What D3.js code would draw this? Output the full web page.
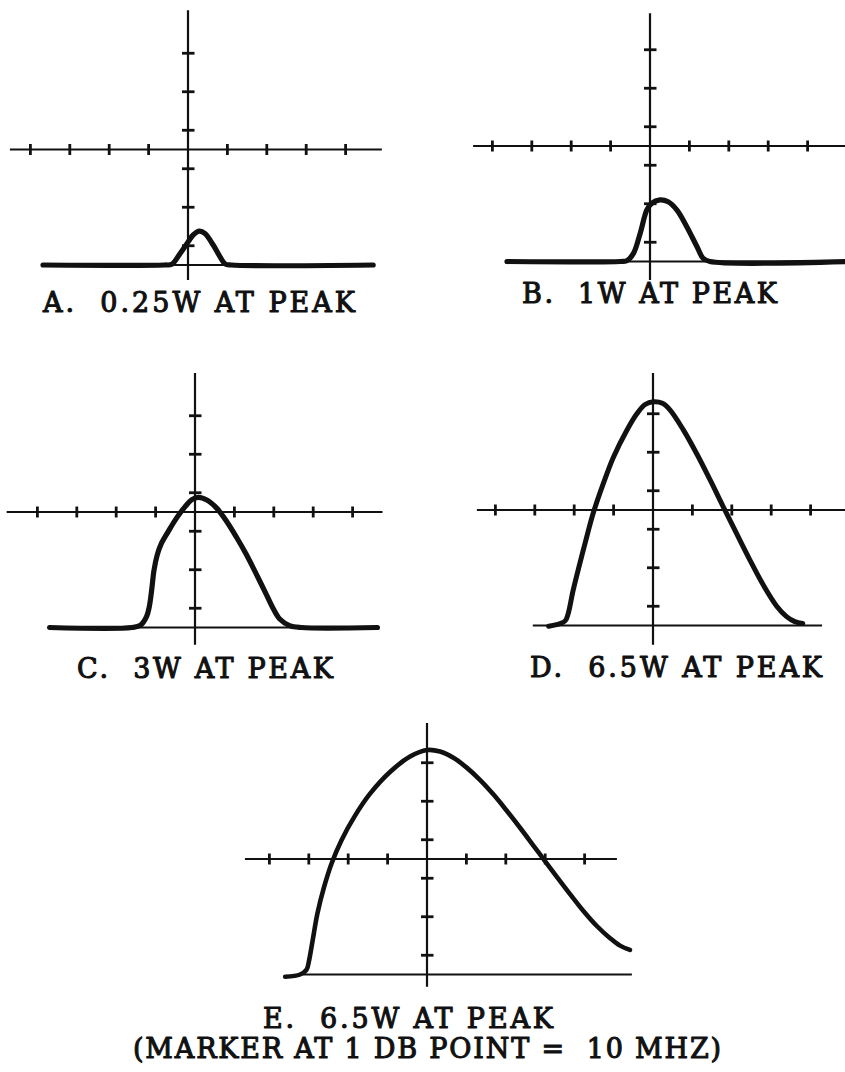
<!DOCTYPE html>
<html>
<head>
<meta charset="utf-8">
<script src="https://cdn.jsdelivr.net/npm/d3@7"></script>
<style>
  html, body { margin: 0; padding: 0; background: #fff; }
  svg { display: block; }
  text { font-family: "DejaVu Serif", "Liberation Serif", serif; white-space: pre; }
</style>
</head>
<body>
<div id="chart"></div>
<script>
// Graticule: x marks in major divisions, y marks at half divisions about centre.
const xTicks = [-4, -3, -2, -1, 1, 2, 3, 4];
const yTicks = [-2.5, -1.5, -0.5, 0.5, 1.5, 2.5];
const baselineLevel = -3;

// Swept response traces, [x division, y division].
const traceA = [[-3.68,-3],[-0.6,-3],[-0.41,-2.98],[-0.2,-2.7],[0.01,-2.39],[0.13,-2.22],[0.29,-2.12],
  [0.43,-2.18],[0.64,-2.48],[0.81,-2.78],[0.94,-2.97],[1.1,-3],[4.7,-3]];
const traceB = [[-3.63,-3],[-0.75,-3],[-0.59,-2.98],[-0.42,-2.79],[-0.25,-2.27],[-0.08,-1.66],[0.04,-1.49],
  [0.25,-1.4],[0.46,-1.45],[0.68,-1.66],[0.93,-2.09],[1.19,-2.61],[1.35,-2.92],[1.52,-3],[5.0,-3]];
const traceC = [[-3.69,-3],[-1.6,-3],[-1.38,-2.94],[-1.23,-2.72],[-1.16,-2.46],[-1.1,-2.03],[-1.04,-1.51],
  [-0.96,-1.12],[-0.85,-0.81],[-0.68,-0.51],[-0.47,-0.16],[-0.25,0.14],[-0.08,0.32],[0.08,0.38],
  [0.3,0.31],[0.55,0.1],[0.8,-0.24],[1.05,-0.65],[1.3,-1.1],[1.55,-1.6],[1.8,-2.12],[1.98,-2.5],
  [2.15,-2.78],[2.4,-2.95],[2.7,-3],[4.63,-3]];
const traceD = [[-2.65,-3.02],[-2.45,-2.98],[-2.23,-2.88],[-2.15,-2.68],[-2.03,-2.1],[-1.86,-1.4],
  [-1.68,-0.69],[-1.52,-0.09],[-1.26,0.69],[-1.01,1.36],[-0.67,2.06],[-0.41,2.5],[-0.2,2.74],[0.01,2.81],
  [0.24,2.77],[0.43,2.6],[0.77,2.08],[1.11,1.46],[1.45,0.78],[1.78,0.09],[2.12,-0.61],[2.46,-1.3],
  [2.8,-1.95],[3.14,-2.5],[3.39,-2.77],[3.6,-2.9],[3.8,-2.95]];
const traceE = [[-3.6,-3.06],[-3.22,-3.0],[-3.06,-2.88],[-2.99,-2.62],[-2.9,-2.1],[-2.78,-1.41],[-2.61,-0.72],
  [-2.42,-0.11],[-2.17,0.49],[-1.83,1.12],[-1.45,1.69],[-0.94,2.26],[-0.43,2.66],[0.0,2.83],[0.33,2.79],
  [0.67,2.63],[1.0,2.38],[1.35,2.05],[1.7,1.66],[2.05,1.22],[2.4,0.76],[2.7,0.35],[3.0,-0.06],
  [3.3,-0.47],[3.63,-0.91],[3.97,-1.35],[4.31,-1.74],[4.64,-2.05],[4.9,-2.25],[5.15,-2.36]];

const captionA = ["A.  0.25W AT PEAK"];
const captionB = ["B.  1W AT PEAK"];
const captionC = ["C.  3W AT PEAK"];
const captionD = ["D.  6.5W AT PEAK"];
const captionE = ["E.  6.5W AT PEAK", "(MARKER AT 1 DB POINT =  10 MHZ)"];

// Screen layout of each graticule.
const DIV_X = 39.4, DIV_Y = 38.5;
const panels = [
  { trace: traceA, caption: captionA, cx: 188, cy: 149.5, h: [-4.52, 4.92], v: [-3.39, 3.62], base: [-3.68, 4.7],
    traceW: 5.2, text: [{ x: 43, y: 311.5, w: 312 }] },
  { trace: traceB, caption: captionB, cx: 650, cy: 146, h: [-4.49, 5.0], v: [-3.48, 3.45], base: [-3.63, 5.0],
    traceW: 5.2, text: [{ x: 522, y: 303, w: 255 }] },
  { trace: traceC, caption: captionC, cx: 195, cy: 512, h: [-4.78, 4.76], v: [-3.45, 3.61], base: [-3.69, 4.63],
    traceW: 5.2, text: [{ x: 77, y: 678, w: 256 }] },
  { trace: traceD, caption: captionD, cx: 653, cy: 510, h: [-4.47, 4.9], v: [-3.5, 3.56], base: [-3.05, 4.29],
    traceW: 5, text: [{ x: 530, y: 677, w: 292 }] },
  { trace: traceE, caption: captionE, cx: 427, cy: 859, h: [-4.62, 4.82], v: [-3.32, 3.53], base: [-3.17, 5.2],
    traceW: 4.6, text: [{ x: 263, y: 1028, w: 290 }, { x: 133, y: 1058, w: 588 }] }
];

const W = 845, H = 1072;
const svg = d3.select("#chart").append("svg")
  .attr("width", W).attr("height", H).attr("viewBox", `0 0 ${W} ${H}`);
svg.append("rect").attr("width", W).attr("height", H).attr("fill", "#fff");

const ink = "#111";

panels.forEach(p => {
  const x = d3.scaleLinear().domain([0, 1]).range([p.cx, p.cx + DIV_X]);
  const y = d3.scaleLinear().domain([0, 1]).range([p.cy, p.cy - DIV_Y]);
  const g = svg.append("g");

  // centre lines
  g.append("line").attr("x1", x(p.h[0])).attr("x2", x(p.h[1])).attr("y1", y(0)).attr("y2", y(0))
    .attr("stroke", ink).attr("stroke-width", 2.2);
  g.append("line").attr("x1", x(0)).attr("x2", x(0)).attr("y1", y(p.v[1])).attr("y2", y(p.v[0]))
    .attr("stroke", ink).attr("stroke-width", 2.2);

  // baseline
  g.append("line").attr("x1", x(p.base[0])).attr("x2", x(p.base[1]))
    .attr("y1", y(baselineLevel)).attr("y2", y(baselineLevel))
    .attr("stroke", ink).attr("stroke-width", 2);

  // division marks
  g.selectAll(".xt").data(xTicks).join("line")
    .attr("x1", d => x(d)).attr("x2", d => x(d))
    .attr("y1", y(0) - 5.5).attr("y2", y(0) + 5.5)
    .attr("stroke", ink).attr("stroke-width", 2.8);
  g.selectAll(".yt").data(yTicks).join("line")
    .attr("x1", x(0) - 6).attr("x2", x(0) + 6.5)
    .attr("y1", d => y(d)).attr("y2", d => y(d))
    .attr("stroke", ink).attr("stroke-width", 2.8);

  // trace
  const line = d3.line().x(d => x(d[0])).y(d => y(d[1])).curve(d3.curveCatmullRom.alpha(0.5));
  g.append("path").attr("d", line(p.trace)).attr("fill", "none")
    .attr("stroke", ink).attr("stroke-width", p.traceW)
    .attr("stroke-linecap", "round").attr("stroke-linejoin", "round");

  // caption
  p.caption.forEach((t, i) => {
    const pos = p.text[i];
    g.append("text").attr("x", pos.x).attr("y", pos.y)
      .attr("xml:space", "preserve")
      .attr("textLength", pos.w).attr("lengthAdjust", "spacing")
      .attr("font-size", 27).attr("fill", ink)
      .attr("stroke", ink).attr("stroke-width", 1.1).attr("stroke-linejoin", "round")
      .text(t);
  });
});
</script>
</body>
</html>
